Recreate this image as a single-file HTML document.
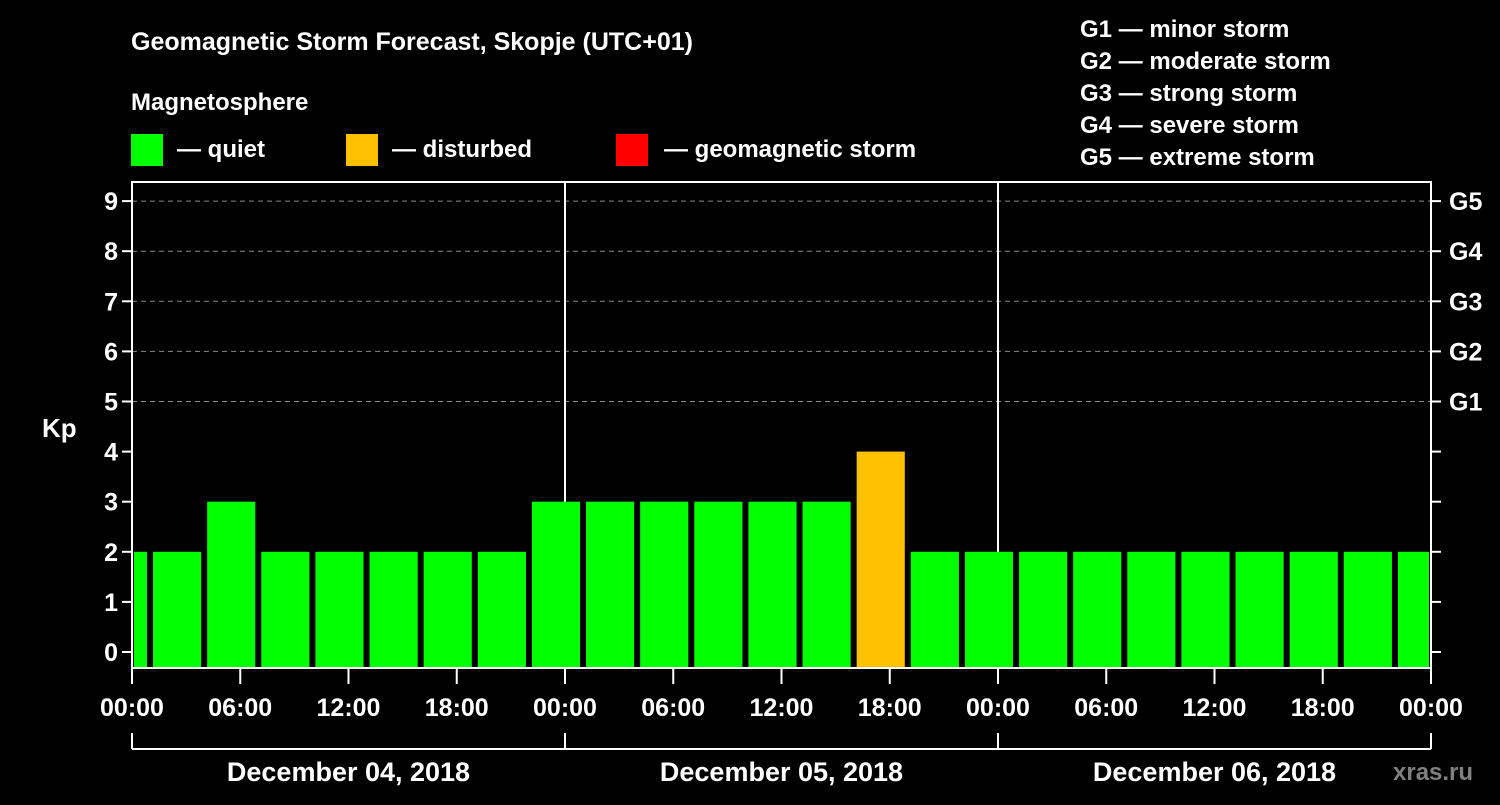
<!DOCTYPE html>
<html><head><meta charset="utf-8">
<style>
body{margin:0;background:#000;width:1500px;height:800px;overflow:hidden;}
svg text{font-family:"Liberation Sans",Arial,sans-serif;font-weight:bold;fill:#fff;}
</style></head>
<body>
<svg id="chart" width="1500" height="800" xmlns="http://www.w3.org/2000/svg">
<text x="131" y="50" font-size="25">Geomagnetic Storm Forecast, Skopje (UTC+01)</text>
<text x="131" y="110" font-size="24">Magnetosphere</text>
<g>
<rect x="131" y="134" width="32" height="32" fill="#00ff00"/>
<text x="177" y="157" font-size="24">— quiet</text>
<rect x="346" y="134" width="32" height="32" fill="#ffc000"/>
<text x="392" y="157" font-size="24">— disturbed</text>
<rect x="616" y="134" width="32" height="32" fill="#ff0000"/>
<text x="664" y="157" font-size="24">— geomagnetic storm</text>
</g>
<g font-size="24">
<text x="1080" y="37">G1 — minor storm</text>
<text x="1080" y="69">G2 — moderate storm</text>
<text x="1080" y="101">G3 — strong storm</text>
<text x="1080" y="133">G4 — severe storm</text>
<text x="1080" y="165">G5 — extreme storm</text>
</g>
<text x="42" y="437" font-size="26">Kp</text>
<text x="1393" y="780" font-size="24" fill="#888" style="fill:#808080">xras.ru</text>
<g id="grid"></g><g id="bars"></g><g id="axes"></g>
</svg>
<script>
const startHours=[-2,1,4,7,10,13,16,19,22,25,28,31,34,37,40,43,46,49,52,55,58,61,64,67,70];
const kpValues=[2,2,3,2,2,2,2,2,3,3,3,3,3,3,4,2,2,2,2,2,2,2,2,2,2];
const yTicks=[0,1,2,3,4,5,6,7,8,9];
const gLabels=["G1","G2","G3","G4","G5"];
const gLevels=[5,6,7,8,9];
const xTickLabels=["00:00","06:00","12:00","18:00","00:00","06:00","12:00","18:00","00:00","06:00","12:00","18:00","00:00"];
const dayLabels=["December 04, 2018","December 05, 2018","December 06, 2018"];
const NS="http://www.w3.org/2000/svg";
const L=132,R=1431,T=182,B=668;
const xs=h=>L+(h/72)*(R-L);
const ys=v=>652-v*50.1;
function mk(tag,attrs,parent){const e=document.createElementNS(NS,tag);for(const k in attrs)e.setAttribute(k,attrs[k]);parent.appendChild(e);return e;}
const grid=document.getElementById('grid'),bars=document.getElementById('bars'),axes=document.getElementById('axes');
gLevels.forEach((g,i)=>{
 const l=mk('line',{x1:L,x2:R,y1:ys(g),y2:ys(g),stroke:'#888','stroke-width':1,'stroke-dasharray':'5,4'},grid);
 
 
 const t=mk('text',{x:1449,y:ys(g)+9,'font-size':25},axes);t.textContent=gLabels[i];
 
 
});
[24,48].forEach(h=>{
 const l=mk('line',{x1:xs(h),x2:xs(h),y1:T,y2:B,stroke:'#fff','stroke-width':2},grid);
 
 
});
startHours.forEach((h,i)=>{
 const v=kpValues[i];
 let a=Math.max(xs(h)+3,xs(0)+2), b=Math.min(xs(h+3)-3,xs(72)-2);
 const col=v>=5?'#ff0000':(v>=4?'#ffc000':'#00ff00');
 const r=mk('rect',{x:a,y:ys(v),width:b-a,height:B-ys(v),fill:col},bars);
 
 
});
const frame=mk('rect',{x:L,y:T,width:R-L,height:B-T,fill:'none',stroke:'#fff','stroke-width':2},axes);


yTicks.forEach(v=>{
 mk('line',{x1:L-10,x2:L,y1:ys(v),y2:ys(v),stroke:'#fff','stroke-width':2},axes);
 mk('line',{x1:R,x2:R+10,y1:ys(v),y2:ys(v),stroke:'#fff','stroke-width':2},axes);
 const t=mk('text',{x:L-14,y:ys(v)+9,'font-size':25,'text-anchor':'end'},axes);t.textContent=v;
 
 
});
xTickLabels.forEach((s,i)=>{
 const x=xs(i*6);
 mk('line',{x1:x,x2:x,y1:B,y2:B+16,stroke:'#fff','stroke-width':2},axes);
 const t=mk('text',{x:x,y:716,'font-size':25,'text-anchor':'middle'},axes);t.textContent=s;
 
 
});
mk('line',{x1:xs(0),x2:xs(72),y1:749,y2:749,stroke:'#fff','stroke-width':2},axes);
[0,24,48,72].forEach(h=>mk('line',{x1:xs(h),x2:xs(h),y1:733,y2:749,stroke:'#fff','stroke-width':2},axes));
dayLabels.forEach((s,i)=>{
 const t=mk('text',{x:xs(i*24+12),y:781,'font-size':27,'text-anchor':'middle'},axes);t.textContent=s;
 
 
});
</script>
</body></html>
